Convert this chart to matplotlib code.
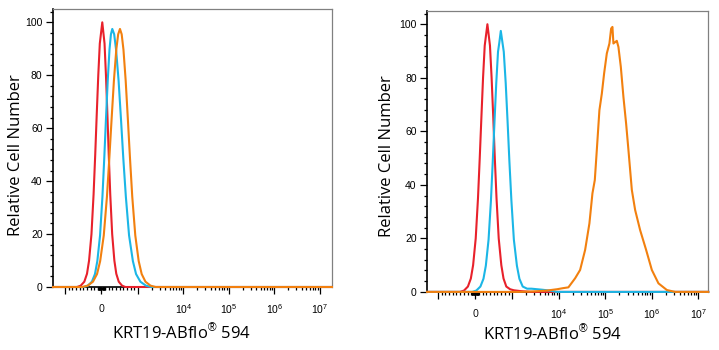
import matplotlib
matplotlib.use('Agg')
import matplotlib.pyplot as plt

plt.rcParams['font.family'] = ['Open Sans', 'DejaVu Sans']
plt.rcParams['mathtext.fontset'] = 'custom'
plt.rcParams['mathtext.rm'] = 'Liberation Sans'
plt.rcParams['mathtext.it'] = 'Liberation Sans:italic'

RED = '#e8212b'
BLUE = '#1bb6e6'
ORANGE = '#f2800f'

##### data (fluorescence, relative cell number)
# left panel
l_red_x = [-1845, -670, -571, -472, -398, -341, -275, -217, -172, -131, -88, -46, 22,
           84, 123, 163, 200, 241, 294, 354, 407, 475, 566, 657, 1.85e7]
l_red_y = [0, 0, 0.5, 2, 5, 10, 20, 35, 50, 65, 80, 92, 100,
           92, 80, 65, 50, 35, 20, 10, 5, 2, 0.5, 0, 0]
l_blue_x = [-1845, -488, -375, -263, -179, -114, -39, 26, 77, 123, 172, 220, 260, 297,
            349, 401, 470, 536, 599, 670, 758, 863, 950, 1135, 1507, 2000, 1.85e7]
l_blue_y = [0, 0, 0.5, 2, 4.9, 9.8, 19.5, 34.1, 48.8, 63.4, 78, 89.7, 95.5, 97.5,
            95.5, 89.7, 78, 63.4, 48.8, 34.1, 19.5, 9.8, 4.9, 2, 0.5, 0, 0]
l_orange_x = [-1845, -530, -382, -234, -122, -36, 63, 150, 216, 278, 342, 407, 459, 508,
              555, 604, 665, 725, 783, 846, 929, 1042, 1213, 1469, 1901, 2460, 1.85e7]
l_orange_y = [0, 0, 0.5, 2, 4.9, 9.8, 19.5, 34.1, 48.8, 63.4, 78, 89.7, 95.5, 97.5,
              95.5, 89.7, 78, 63.4, 48.8, 34.1, 19.5, 9.8, 4.9, 2, 0.5, 0, 0]

# right panel
r_red_x = [-1706, -403, -298, -193, -114, -53, 17, 78, 125, 169, 214, 259, 331,
           400, 444, 489, 530, 576, 635, 705, 764, 839, 941, 1081, 1500, 2500, 1.63e7]
r_red_y = [0, 0, 0.5, 2, 5, 10, 20, 35, 50, 65, 80, 92, 100,
           92, 80, 65, 50, 35, 20, 10, 5, 2, 1.0, 0.6, 0.3, 0, 0]
r_blue_x = [-1706, -77, 33, 143, 225, 289, 362, 426, 475, 521, 569, 616, 650, 691,
            771, 823, 874, 922, 976, 1081, 1256, 1422, 1675, 2080, 2588, 4470, 7080, 8900, 1.63e7]
r_blue_y = [0, 0, 0.5, 2, 4.9, 9.8, 19.5, 34.1, 48.8, 63.4, 78, 89.7, 93, 97.5,
            89.7, 78, 63.4, 48.8, 34.1, 19.5, 9.8, 4.9, 2, 1.2, 1.2, 0.8, 0.4, 0, 0]
r_orange_x = [-1706, 1472, 3090, 5520, 9180, 12360, 16070, 22440, 28710, 36810, 45500, 52840, 59430, 65610,
              74650, 84140, 94190, 107700, 122500, 133400, 142200, 149300, 164800, 176600, 191400, 215300,
              244900, 279900, 314100, 371500, 437500, 559800, 753400, 1000000, 1387000, 2104000, 3170000, 1.63e7]
r_orange_y = [0, 0, 0.2, 0.5, 1.0, 1.4, 1.7, 5.1, 8.2, 15.7, 25.6, 36.8, 41.8, 53, 67.9, 74.1, 81.6, 89.1,
              92.8, 98.4, 99, 92.8, 93.4, 93.8, 91.5, 84.1, 72.9, 62.9, 53, 38.1, 30.6, 23.1, 15.7, 8.2,
              3.2, 0.7, 0, 0]

major_ticks = [-1000, 0, 1000, 1e4, 1e5, 1e6, 1e7]
major_labels = ['', '0', '', '$10^4$', '$10^5$', '$10^6$', '$10^7$']
xlabel = 'KRT19-ABflo$^{\u00ae}$ 594'
ylabel = 'Relative Cell Number'

minor_ticks = []
for m in range(2, 10):
    minor_ticks += [-m * 10, m * 10, -m * 100, m * 100, m * 1000]
    for d in [1e4, 1e5, 1e6]:
        minor_ticks.append(m * d)
minor_ticks += [-100, 100]


##### plot
fig = plt.figure(figsize=(7.19, 3.5), dpi=100)
ax1 = fig.add_axes([0.0737, 0.18, 0.388, 0.794])
ax2 = fig.add_axes([0.594, 0.166, 0.391, 0.803])

panels = [
    (ax1, l_red_x, l_red_y, l_blue_x, l_blue_y, l_orange_x, l_orange_y, (-1845, 1.85e7), (0.459, -0.129), (-0.104, 0.475)),
    (ax2, r_red_x, r_red_y, r_blue_x, r_blue_y, r_orange_x, r_orange_y, (-1706, 1.63e7), (0.445, -0.114), (-0.114, 0.484)),
]

for ax, rx, ry, bx, by, ox, oy, xl, xlab_pos, ylab_pos in panels:
    ax.set_xscale('symlog', linthresh=1000, linscale=0.72, base=10)
    ax.plot(rx, ry, color=RED, lw=1.5, zorder=3, clip_on=False)
    ax.plot(bx, by, color=BLUE, lw=1.5, zorder=4, clip_on=False)
    ax.plot(ox, oy, color=ORANGE, lw=1.5, zorder=5, clip_on=False)
    ax.set_xlim(xl)
    ax.set_ylim(0, 105)

    ax.set_xticks(major_ticks)
    ax.set_xticklabels(major_labels)
    ax.set_xticks([t for t in minor_ticks if xl[0] < t < xl[1]], minor=True)
    ax.set_yticks([0, 20, 40, 60, 80, 100])
    ax.set_yticks(range(4, 105, 4), minor=True)

    ax.tick_params(axis='both', which='major', direction='out', length=5, width=0.9, labelsize=7.5,
                   colors='black')
    ax.tick_params(axis='both', which='minor', direction='out', length=2.5, width=0.9)
    ax.tick_params(axis='x', which='major', pad=7)
    ax.tick_params(axis='y', which='major', pad=2.5)
    for lab in ax.get_yticklabels():
        lab.set_family('Liberation Sans')

    for s in ['left', 'bottom']:
        ax.spines[s].set_linewidth(1.2)
        ax.spines[s].set_color('black')
    for s in ['top', 'right']:
        ax.spines[s].set_linewidth(0.9)
        ax.spines[s].set_color('#808080')

    ax.set_xlabel(xlabel, fontsize=12)
    ax.set_ylabel(ylabel, fontsize=12)
    ax.xaxis.set_label_coords(*xlab_pos)
    ax.yaxis.set_label_coords(*ylab_pos)

plt.savefig('out.png', dpi=100)
